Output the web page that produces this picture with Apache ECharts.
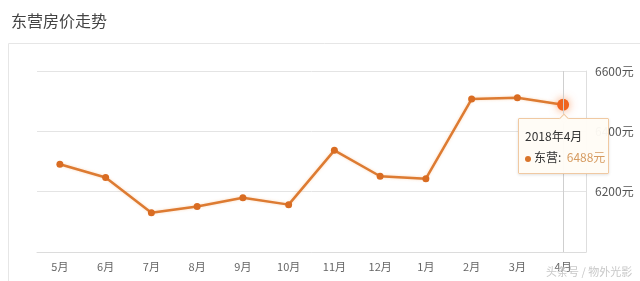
<!DOCTYPE html>
<html>
<head>
<meta charset="utf-8">
<script src="https://cdn.jsdelivr.net/npm/echarts@6/dist/echarts.min.js"></script>
<style>
html,body{margin:0;padding:0;background:#fff;}
#c{width:640px;height:281px;}
</style>
</head>
<body>
<div id="c"></div>
<script>
var categories = ['5月','6月','7月','8月','9月','10月','11月','12月','1月','2月','3月','4月'];
var prices = [6291, 6247, 6130, 6151, 6180, 6157, 6337, 6251, 6243, 6507, 6511, 6488];
var tooltipTitles = ['2017年5月','2017年6月','2017年7月','2017年8月','2017年9月','2017年10月','2017年11月','2017年12月','2018年1月','2018年2月','2018年3月','2018年4月'];
var seriesName = '东营';
var yMin = 6000, yMax = 6600, yStep = 200;

var font = '"Noto Sans CJK SC", "Noto Sans", sans-serif';
var cssFont = font.replace(/"/g, "'");
var chart = echarts.init(document.getElementById('c'), null, {renderer: 'canvas'});
chart.setOption({
  animation: false,
  textStyle: {fontFamily: font},
  title: {
    text: '东营房价走势', left: 6, top: 8,
    textStyle: {fontSize: 16, fontWeight: 'normal', color: '#444', fontFamily: font}
  },
  graphic: [
    {type: 'rect', shape: {x: 8.5, y: 43.5, width: 700, height: 300}, style: {fill: 'none', stroke: '#e6e6e6', lineWidth: 1}, silent: true, z: -10},
    {type: 'text', left: 546, top: 266, style: {text: '头条号 / 物外光影', fill: '#c8c8c8', font: '11px ' + font}, silent: true, z: 100}
  ],
  grid: {left: 37, right: 54, top: 71, bottom: 29},
  tooltip: {
    trigger: 'item',
    position: 'bottom',
    transitionDuration: 0,
    backgroundColor: 'rgba(255,252,246,0.96)',
    borderColor: '#f0c9a2',
    borderWidth: 1,
    padding: [6, 3, 6, 6],
    extraCssText: 'box-shadow:0 1px 3px rgba(0,0,0,0.12);border-radius:1px;',
    formatter: function (p) {
      return '<div style="font-family:' + cssFont + ';font-size:12px;color:#333;line-height:21px;">' +
        tooltipTitles[p.dataIndex] + '</div>' +
        '<div style="font-family:' + cssFont + ';font-size:12px;color:#333;line-height:21px;white-space:nowrap;">' +
        '<span style="display:inline-block;width:6px;height:6px;border-radius:3px;background:#d9742a;margin-right:3px;vertical-align:middle;"></span>' +
        p.seriesName + ':&nbsp;&nbsp;<span style="color:#d69c62;">' + p.value + '元</span></div>';
    }
  },
  xAxis: {
    type: 'category',
    data: categories,
    boundaryGap: true,
    axisLine: {show: true, lineStyle: {color: '#dcdcdc'}},
    axisTick: {show: false},
    axisLabel: {color: '#666', fontSize: 11, margin: 9, fontFamily: font},
    splitLine: {show: false},
    axisPointer: {
      show: true, type: 'line', value: 11, status: 'show', snap: true,
      triggerTooltip: false,
      lineStyle: {color: '#cfcfcf', width: 1, type: 'solid'},
      label: {show: false}
    }
  },
  yAxis: {
    type: 'value',
    position: 'right',
    min: yMin, max: yMax, interval: yStep,
    axisLine: {show: true, lineStyle: {color: '#dedede'}},
    axisTick: {show: false},
    axisLabel: {
      color: '#555', fontSize: 12, margin: 9, showMinLabel: false, fontFamily: font,
      formatter: function (v) { return String(v) + '元'; }
    },
    splitLine: {show: true, lineStyle: {color: '#e4e4e4'}}
  },
  series: [{
    name: seriesName,
    type: 'line',
    data: prices,
    symbol: 'circle',
    symbolSize: 7,
    itemStyle: {color: '#d96c22'},
    lineStyle: {color: '#c9702e', width: 2.5, shadowColor: 'rgba(245,160,90,0.4)', shadowBlur: 3},
    emphasis: {
      scale: 1.7,
      itemStyle: {color: '#f0641e', shadowColor: 'rgba(245,120,50,0.7)', shadowBlur: 8}
    }
  }]
});
chart.dispatchAction({type: 'highlight', seriesIndex: 0, dataIndex: 11});
chart.dispatchAction({type: 'showTip', seriesIndex: 0, dataIndex: 11});
</script>
</body>
</html>
